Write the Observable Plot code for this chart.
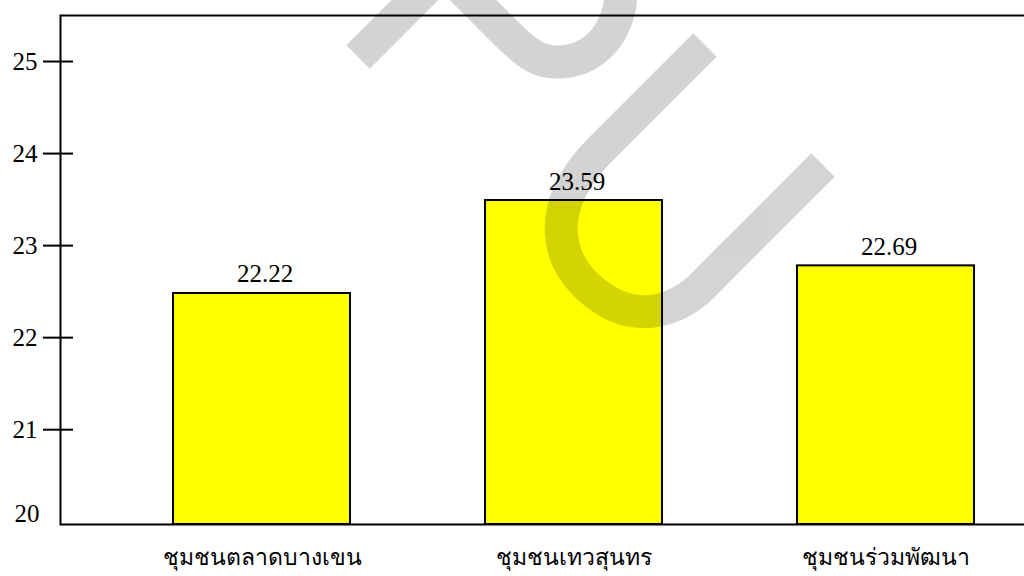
<!DOCTYPE html>
<html><head><meta charset="utf-8">
<script src="https://cdn.jsdelivr.net/npm/d3@7"></script>
<script src="https://cdn.jsdelivr.net/npm/@observablehq/plot@0.6"></script>
<style>
html,body{margin:0;padding:0;background:#fff;overflow:hidden;}
#wrap{position:relative;width:1024px;height:576px;overflow:hidden;}
#wm{position:absolute;left:0;top:0;pointer-events:none;}
</style></head><body>
<div id="wrap"></div>
<script>
const communities = ["ชุมชนตลาดบางเขน", "ชุมชนเทวสุนทร", "ชุมชนร่วมพัฒนา"];
const barValues = [22.48, 23.49, 22.78];
const valueLabels = ["22.22", "23.59", "22.69"];
const yTicks = [21, 22, 23, 24, 25];
const yBaseTick = [20];
const yMin = 19.97, yMax = 25.5;

const data = communities.map((c, i) => ({community: c, value: barValues[i], label: valueLabels[i]}));
const serif = "'Liberation Serif', 'Times New Roman', serif";

const chart = Plot.plot({
  width: 1024, height: 576,
  marginTop: 15, marginBottom: 52, marginLeft: 60, marginRight: -6,
  style: `font-family: ${serif}; font-size: 25px; color: #000; background: #fff; overflow: hidden;`,
  x: {domain: communities, range: [60, 1086], paddingInner: 0.434, paddingOuter: 0.356, align: 0.5, label: null},
  y: {domain: [yMin, yMax], clamp: true, label: null},
  marks: [
    Plot.barY(data, {x: "community", y: "value", fill: "#ffff00", stroke: "#000", strokeWidth: 2}),
    Plot.text(data, {x: "community", y: "value", text: "label", lineAnchor: "bottom", dy: -11, dx: 3, fontSize: 25, fontFamily: serif}),
    Plot.frame({stroke: "#000", strokeWidth: 2}),
    Plot.axisY(yTicks, {tickSize: 30, dx: 13, tickPadding: 6, strokeWidth: 2, fontSize: 25, fontFamily: serif, tickFormat: d3.format("d"), label: null}),
    Plot.axisY(yBaseTick, {tickSize: 0, tickPadding: 21, dy: -8, fontSize: 25, fontFamily: serif, tickFormat: d3.format("d"), label: null}),
    Plot.axisX({tickSize: 0, tickPadding: 24, fontSize: 23, fontFamily: serif, label: null})
  ]
});
chart.querySelectorAll("text").forEach(t => { t.style.fontFamily = serif; t.style.fontVariant = "normal"; });
const wrap = document.getElementById("wrap");
wrap.appendChild(chart);

// decorative watermark overlay (not data)
const ns = "http://www.w3.org/2000/svg";
const wm = document.createElementNS(ns, "svg");
wm.setAttribute("id", "wm");
wm.setAttribute("width", "1024");
wm.setAttribute("height", "576");
const g = document.createElementNS(ns, "g");
g.setAttribute("opacity", "0.17");
[
  "M358,57 L444,-29 L505,32 C530,57 540,62 557,62 C585,62 612,45 620,5 L623,-40",
  "M705,45 L600,150 C545,205 550,265 605,300 C640,322 680,312 710,278 L823,165"
].forEach(d => {
  const p = document.createElementNS(ns, "path");
  p.setAttribute("d", d);
  p.setAttribute("fill", "none");
  p.setAttribute("stroke", "#000");
  p.setAttribute("stroke-width", "33");
  p.setAttribute("stroke-linecap", "butt");
  p.setAttribute("stroke-linejoin", "miter");
  g.appendChild(p);
});
wm.appendChild(g);
wrap.appendChild(wm);
</script>
</body></html>
